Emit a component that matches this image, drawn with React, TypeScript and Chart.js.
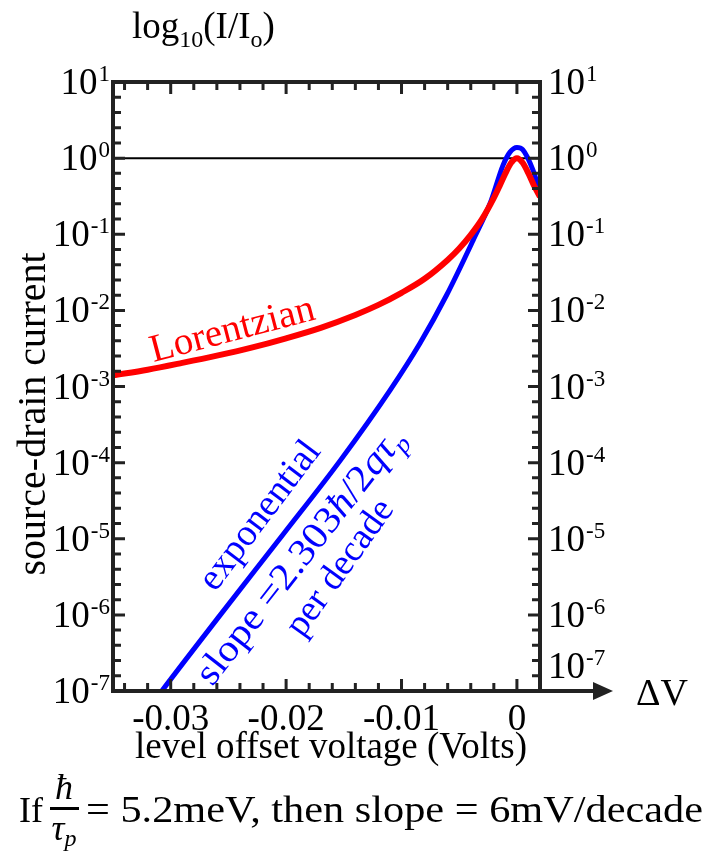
import React, { useEffect, useRef } from "react";
import { Chart, registerables } from "chart.js";

Chart.register(...registerables);

// ---- data ----
const redVolts = [-0.035, -0.032, -0.029, -0.026, -0.023, -0.02, -0.017, -0.014, -0.012, -0.01, -0.008, -0.006, -0.005, -0.004, -0.003, -0.002, -0.0015, -0.001, -0.0005, 0, 0.0005, 0.001, 0.0015, 0.002];
const redCurrent = [1.4e-3, 1.66e-3, 2.04e-3, 2.54e-3, 3.24e-3, 4.3e-3, 5.9e-3, 8.7e-3, 1.18e-2, 1.7e-2, 2.6e-2, 4.6e-2, 6.5e-2, 9.8e-2, 0.16, 0.3, 0.43, 0.63, 0.87, 1.0, 0.87, 0.63, 0.43, 0.31];

const blueVolts = [-0.032, -0.031, -0.0257, -0.0203, -0.0153, -0.011, -0.0084, -0.0061, -0.0038, -0.0023, -0.0012, -0.0006, 0, 0.0005, 0.0014, 0.002];
const blueCurrent = [5.6e-8, 9.0e-8, 1.0e-6, 1.12e-5, 1.07e-4, 8.9e-4, 3.7e-3, 1.58e-2, 8.3e-2, 0.26, 0.81, 1.2, 1.38, 1.29, 0.69, 0.355];

const refVolts = [-0.035, 0.002];
const refLevel = [1, 1];

const xMin = -0.035;
const xMax = 0.002;
const yMin = 1e-7;
const yMax = 10;

const xTickValues = [-0.03, -0.02, -0.01, 0];
const xTickLabels = ["-0.03", "-0.02", "-0.01", "0"];
const xMinorStep = 0.002;
const yTickExponents = [1, 0, -1, -2, -3, -4, -5, -6, -7];
const yMinorPerDecade = 5;

const SERIF = '"Liberation Serif", "Times New Roman", serif';

function pts(xs: number[], ys: number[]) {
  return xs.map((x, i) => ({ x, y: ys[i] }));
}

function drawPow10(ctx: CanvasRenderingContext2D, x: number, yc: number, exp: number, align: "left" | "right") {
  ctx.textAlign = "left";
  ctx.textBaseline = "alphabetic";
  ctx.font = `37px ${SERIF}`;
  const wb = ctx.measureText("10").width;
  ctx.font = `23px ${SERIF}`;
  const es = String(exp);
  const we = ctx.measureText(es).width;
  const total = wb + 1 + we;
  const x0 = align === "right" ? x - total : x;
  const base = yc + 12;
  ctx.font = `37px ${SERIF}`;
  ctx.fillText("10", x0, base);
  ctx.font = `23px ${SERIF}`;
  ctx.fillText(es, x0 + wb + 1, base - 13);
}

function rotatedText(ctx: CanvasRenderingContext2D, text: string, x: number, y: number, deg: number, font: string, color: string) {
  ctx.save();
  ctx.translate(x, y);
  ctx.rotate((deg * Math.PI) / 180);
  ctx.font = font;
  ctx.fillStyle = color;
  ctx.textAlign = "left";
  ctx.textBaseline = "alphabetic";
  ctx.fillText(text, 0, 0);
  ctx.restore();
}

const decorPlugin = {
  id: "decor",
  beforeDraw(chart: any) {
    const ctx: CanvasRenderingContext2D = chart.ctx;
    ctx.save();
    ctx.fillStyle = "#ffffff";
    ctx.fillRect(0, 0, chart.width, chart.height);
    ctx.restore();
  },
  afterDraw(chart: any) {
    const ctx: CanvasRenderingContext2D = chart.ctx;
    const xs = chart.scales.x;
    const ys = chart.scales.y;
    const { left, right, top, bottom } = chart.chartArea;
    const ink = "#222222";
    ctx.save();

    // frame
    ctx.strokeStyle = ink;
    ctx.lineWidth = 4;
    ctx.lineCap = "butt";
    ctx.beginPath();
    ctx.moveTo(left, bottom);
    ctx.lineTo(left, top);
    ctx.lineTo(right, top);
    ctx.lineTo(right, bottom);
    ctx.stroke();
    // bottom axis with arrow
    ctx.beginPath();
    ctx.moveTo(left - 2, bottom);
    ctx.lineTo(right + 56, bottom);
    ctx.stroke();
    ctx.fillStyle = ink;
    ctx.beginPath();
    ctx.moveTo(right + 73, bottom);
    ctx.lineTo(right + 53, bottom - 9);
    ctx.lineTo(right + 53, bottom + 9);
    ctx.closePath();
    ctx.fill();

    // ticks
    ctx.lineWidth = 3;
    const decades = Math.log10(yMax) - Math.log10(yMin);
    for (let k = 0; k <= decades * yMinorPerDecade; k++) {
      const v = Math.pow(10, Math.log10(yMin) + k / yMinorPerDecade);
      const py = ys.getPixelForValue(v);
      if (py <= top + 3 || py >= bottom - 3) continue;
      const len = k % yMinorPerDecade === 0 ? 12 : 8;
      ctx.beginPath();
      ctx.moveTo(left, py);
      ctx.lineTo(left + len, py);
      ctx.moveTo(right, py);
      ctx.lineTo(right - len, py);
      ctx.stroke();
    }
    const nSteps = Math.round((xMax - xMin) / xMinorStep);
    for (let i = 0; i <= nSteps + 1; i++) {
      const v = Math.round((xMax - i * xMinorStep) * 1e6) / 1e6;
      if (v < xMin) break;
      const px = xs.getPixelForValue(v);
      if (px <= left + 3 || px >= right - 3) continue;
      const major = Math.abs(Math.round(v / 0.01) * 0.01 - v) < 1e-9;
      const len = major ? 12 : 8;
      ctx.beginPath();
      ctx.moveTo(px, bottom);
      ctx.lineTo(px, bottom - len);
      ctx.moveTo(px, top);
      ctx.lineTo(px, top + len);
      ctx.stroke();
    }

    // y tick labels
    ctx.fillStyle = "#000";
    yTickExponents.forEach((e) => {
      const py = ys.getPixelForValue(Math.pow(10, e));
      drawPow10(ctx, left - 3, py, e, "right");
      const pr = e === yTickExponents[yTickExponents.length - 1] ? py - 25 : py;
      drawPow10(ctx, right + 8, pr, e, "left");
    });

    // x tick labels
    ctx.font = `37px ${SERIF}`;
    ctx.textAlign = "center";
    ctx.textBaseline = "alphabetic";
    xTickValues.forEach((v, i) => {
      ctx.fillText(xTickLabels[i], xs.getPixelForValue(v), bottom + 39);
    });

    // x axis title
    ctx.fillText("level offset voltage (Volts)", 331, bottom + 67);

    // y axis title
    ctx.save();
    ctx.translate(45, 414);
    ctx.rotate(-Math.PI / 2);
    ctx.font = `40px ${SERIF}`;
    ctx.textAlign = "center";
    ctx.fillText("source-drain current", 0, 0);
    ctx.restore();

    // top title log10(I/Io)
    ctx.textAlign = "left";
    let tx = 132;
    const tb = 38;
    const part = (t: string, size: number, dy: number) => {
      ctx.font = `${size}px ${SERIF}`;
      ctx.fillText(t, tx, tb + dy);
      tx += ctx.measureText(t).width;
    };
    part("log", 37, 0);
    part("10", 24, 9);
    part("(I/I", 37, 0);
    part("o", 24, 9);
    part(")", 37, 0);

    // ΔV
    ctx.font = `38px ${SERIF}`;
    ctx.fillText("ΔV", right + 96, bottom + 14);

    // annotations anchored to data coordinates
    const P = (vx: number, vy: number) => [xs.getPixelForValue(vx), ys.getPixelForValue(vy)];
    let [ax, ay] = P(-0.0315, 2.1e-3);
    rotatedText(ctx, "Lorentzian", ax, ay, -14.7, `39px ${SERIF}`, "#ff0000");

    [ax, ay] = P(-0.02615, 1.95e-6);
    rotatedText(ctx, "exponential", ax, ay, -53, `38px ${SERIF}`, "#0000ff");

    // slope = 2.303ħ/2qτp
    [ax, ay] = P(-0.0264, 1.12e-7);
    ctx.save();
    ctx.translate(ax, ay);
    ctx.rotate((-52 * Math.PI) / 180);
    ctx.fillStyle = "#0000ff";
    ctx.textAlign = "left";
    ctx.textBaseline = "alphabetic";
    const segs: [string, string, number][] = [
      ["slope =2.303", `38px ${SERIF}`, 0],
      ["ħ", `italic 38px ${SERIF}`, 0],
      ["/2", `38px ${SERIF}`, 0],
      ["qτ", `italic 38px ${SERIF}`, 0],
      ["p", `italic 25px ${SERIF}`, 8],
    ];
    let totalW = 0;
    segs.forEach(([t, f]) => {
      ctx.font = f;
      totalW += ctx.measureText(t).width;
    });
    ctx.scale(315 / totalW, 1);
    let sx = 0;
    segs.forEach(([t, f, dy]) => {
      ctx.font = f;
      ctx.fillText(t, sx, dy);
      sx += ctx.measureText(t).width;
    });
    ctx.restore();

    [ax, ay] = P(-0.0186, 4.9e-7);
    rotatedText(ctx, "per decade", ax, ay, -54.4, `37px ${SERIF}`, "#0000ff");

    // bottom formula
    ctx.fillStyle = "#000";
    ctx.textAlign = "left";
    ctx.font = `36px ${SERIF}`;
    ctx.fillText("If", 19, 822);
    ctx.font = `italic 36px ${SERIF}`;
    ctx.textAlign = "center";
    ctx.fillText("ħ", 64, 799);
    ctx.fillRect(50, 807, 29, 3);
    ctx.font = `italic 36px ${SERIF}`;
    ctx.textAlign = "left";
    const tw = ctx.measureText("τ").width;
    ctx.font = `italic 24px ${SERIF}`;
    const pw = ctx.measureText("p").width;
    const fx = 64 - (tw + pw) / 2;
    ctx.font = `italic 36px ${SERIF}`;
    ctx.fillText("τ", fx, 840);
    ctx.font = `italic 24px ${SERIF}`;
    ctx.fillText("p", fx + tw, 846);

    const eq = "= 5.2meV, then slope = 6mV/decade";
    ctx.font = `37px ${SERIF}`;
    const ew = ctx.measureText(eq).width;
    const target = 703 - 86;
    ctx.save();
    ctx.translate(86, 822);
    ctx.scale(target / ew, 1);
    ctx.fillText(eq, 0, 0);
    ctx.restore();

    ctx.restore();
  },
};

export default function App() {
  const ref = useRef<HTMLCanvasElement>(null);
  useEffect(() => {
    document.body.style.margin = "0";
    const canvas = ref.current!;
    const chart = new Chart(canvas, {
      type: "line",
      data: {
        datasets: [
          {
            label: "Lorentzian",
            data: pts(redVolts, redCurrent),
            borderColor: "#ff0000",
            borderWidth: 6,
            pointRadius: 0,
            cubicInterpolationMode: "monotone",
            clip: 0,
          },
          {
            label: "exponential",
            data: pts(blueVolts, blueCurrent),
            borderColor: "#0000ff",
            borderWidth: 5,
            pointRadius: 0,
            cubicInterpolationMode: "monotone",
            clip: 0,
          },
          {
            label: "I = Io",
            data: pts(refVolts, refLevel),
            borderColor: "#000000",
            borderWidth: 2,
            pointRadius: 0,
            clip: 0,
          },
        ],
      },
      options: {
        responsive: false,
        animation: false,
        devicePixelRatio: 1,
        layout: { padding: { left: 113, top: 82, right: 166, bottom: 175 } },
        plugins: { legend: { display: false }, tooltip: { enabled: false } },
        scales: {
          x: { type: "linear", min: xMin, max: xMax, display: false },
          y: { type: "logarithmic", min: yMin, max: yMax, display: false },
        },
      },
      plugins: [decorPlugin],
    } as any);
    return () => chart.destroy();
  }, []);
  return <canvas ref={ref} width={706} height={866} style={{ display: "block", width: 706, height: 866 }} />;
}
